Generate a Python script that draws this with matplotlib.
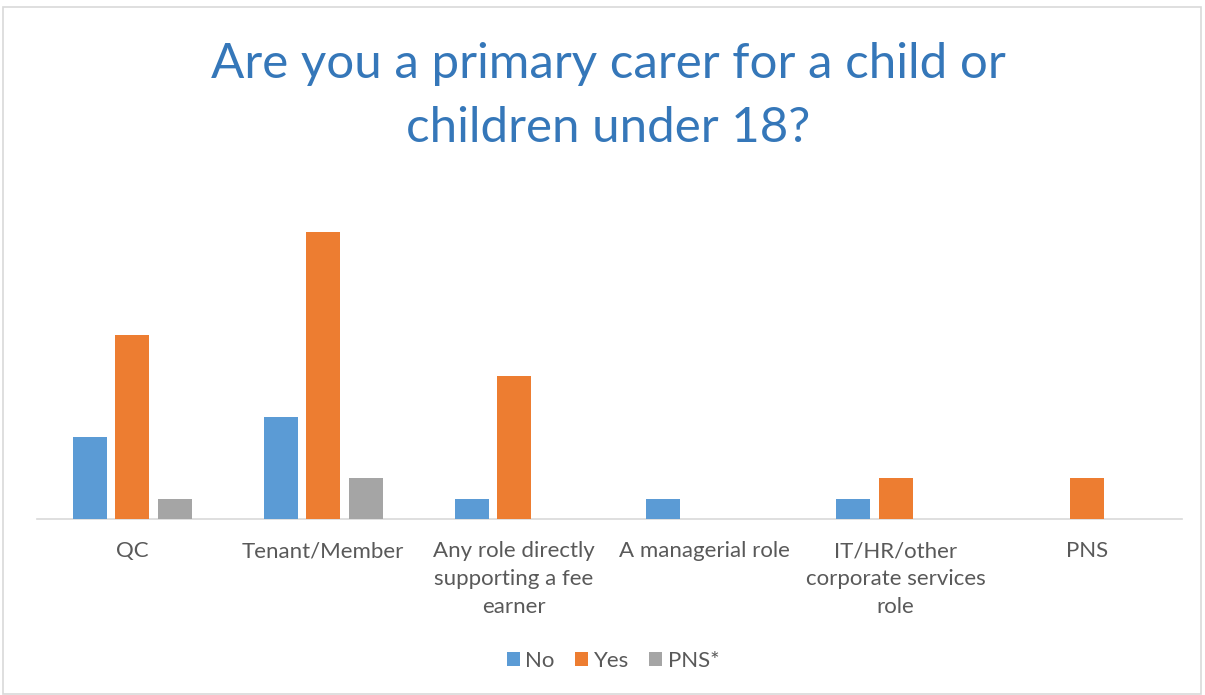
import numpy as np
import matplotlib
matplotlib.use("Agg")
import matplotlib.pyplot as plt
from matplotlib.patches import Rectangle

plt.rcParams["font.family"] = ["Lato", "DejaVu Sans"]

categories = ["QC", "Tenant/Member", "Any role directly\nsupporting a fee\nearner",
              "A managerial role", "IT/HR/other\ncorporate services\nrole", "PNS"]
series = ["No", "Yes", "PNS*"]
no_vals = [4, 5, 1, 1, 1, 0]
yes_vals = [9, 14, 7, 0, 2, 2]
pns_vals = [1, 2, 0, 0, 0, 0]
colors = ["#5B9BD5", "#ED7D31", "#A5A5A5"]

fig = plt.figure(figsize=(12.05, 6.95), dpi=100)
fig.patches.append(Rectangle((3 / 1205, 0.002), 1198 / 1205, 1 - 7 / 695 - 0.002,
                             transform=fig.transFigure, fill=False,
                             edgecolor="#D9D9D9", lw=1.2))

ax = fig.add_axes([37 / 1205, 176 / 695, 1145 / 1205, 328 / 695])
x = np.arange(len(categories))
w = 0.178
step = 0.222
for i, (name, vals) in enumerate(zip(series, [no_vals, yes_vals, pns_vals])):
    ax.bar(x + (i - 1) * step, vals, width=w, color=colors[i], label=name, zorder=3)

ax.set_xlim(-0.5, len(categories) - 0.5)
ax.set_ylim(0, 16)
ax.set_yticks([])
for s in ["top", "right", "left"]:
    ax.spines[s].set_visible(False)
ax.spines["bottom"].set_color("#D9D9D9")
ax.spines["bottom"].set_linewidth(1.2)
ax.set_xticks(x)
ax.set_xticklabels(categories, fontsize=16, color="#595959", linespacing=1.5, va="top")
ax.tick_params(axis="x", length=0, pad=16)

fig.text(608 / 1205, 1 - 96 / 695, "Are you a primary carer for a child or\nchildren under 18?",
         ha="center", va="center", fontsize=35.5, color="#3577B9", linespacing=1.55)

fig.legend(loc="center", bbox_to_anchor=(613 / 1205, 1 - 661 / 695), ncol=3, frameon=False,
           fontsize=16, handlelength=0.6, handleheight=0.6, handletextpad=0.25,
           columnspacing=0.9, labelcolor="#595959")

fig.savefig("out.png", dpi=100)
